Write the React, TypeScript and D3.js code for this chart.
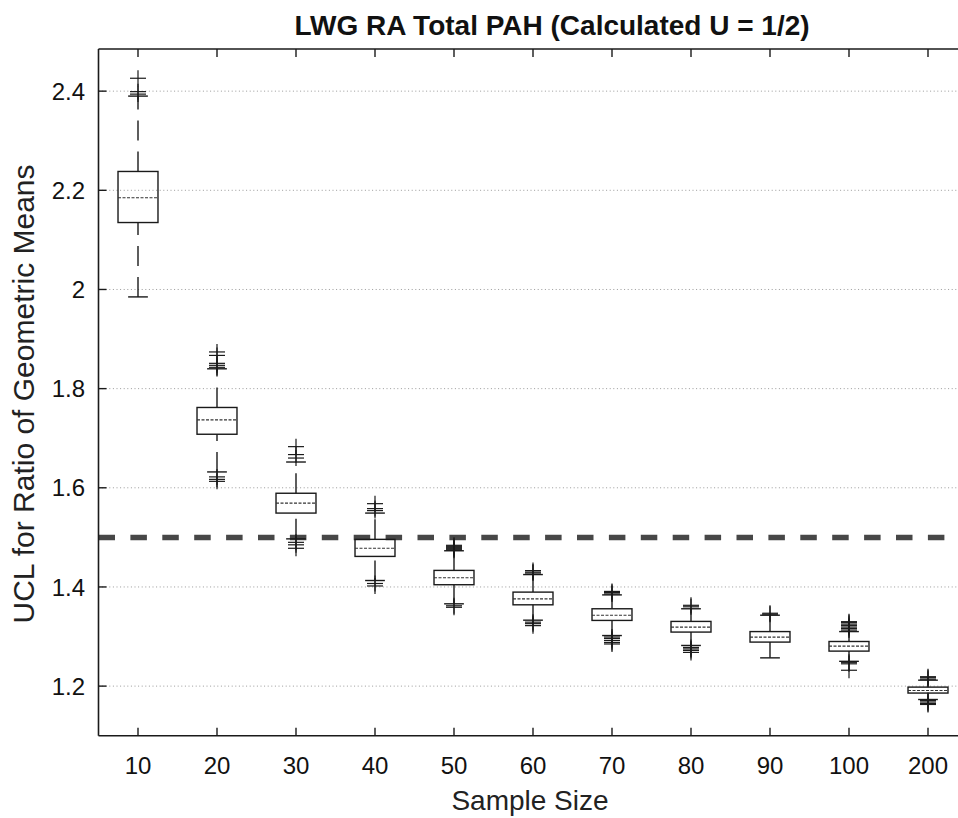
import React from "react";
import * as d3 from "d3";

const categories = ["10", "20", "30", "40", "50", "60", "70", "80", "90", "100", "200"];
const q1 = [2.135, 1.708, 1.549, 1.4616, 1.4045, 1.364, 1.3325, 1.309, 1.2888, 1.2706, 1.186];
const medians = [2.185, 1.737, 1.569, 1.478, 1.4187, 1.376, 1.343, 1.319, 1.2988, 1.2807, 1.1913];
const q3 = [2.238, 1.762, 1.589, 1.496, 1.4334, 1.3896, 1.356, 1.3305, 1.31, 1.29, 1.198];
const whiskerLow = [1.985, 1.632, 1.497, 1.413, 1.366, 1.333, 1.302, 1.282, 1.257, 1.25, 1.173];
const whiskerHigh = [2.39, 1.84, 1.652, 1.549, 1.473, 1.425, 1.384, 1.356, 1.343, 1.31, 1.212];
const outliersHigh = [
  [2.394, 2.399, 2.426],
  [1.843, 1.847, 1.851, 1.867, 1.874],
  [1.66, 1.667, 1.683],
  [1.554, 1.558, 1.568],
  [1.474, 1.476, 1.478, 1.48, 1.482, 1.484],
  [1.428, 1.43, 1.433],
  [1.386, 1.389, 1.391],
  [1.36, 1.363],
  [1.345, 1.347],
  [1.313, 1.316, 1.319, 1.322, 1.325, 1.328, 1.33],
  [1.214, 1.217, 1.219],
];
const outliersLow = [
  [],
  [1.622, 1.617, 1.613],
  [1.49, 1.485, 1.478],
  [1.407, 1.402],
  [1.362, 1.359],
  [1.329, 1.326, 1.322],
  [1.299, 1.296, 1.292, 1.288, 1.285],
  [1.278, 1.275, 1.272, 1.268],
  [],
  [1.248, 1.245, 1.232],
  [1.171, 1.168, 1.165, 1.163],
];
const yTicks = [1.2, 1.4, 1.6, 1.8, 2.0, 2.2, 2.4];
const refValue = 1.5;
const title = "LWG RA Total PAH (Calculated U = 1/2)";
const xTitle = "Sample Size";
const yTitle = "UCL for Ratio of Geometric Means";

const W = 958;
const H = 818;
const left = 98.5;
const right = 967.5;
const top = 49;
const bottom = 735.7;
const font = "'Liberation Sans', Arial, Helvetica, sans-serif";

export default function App() {
  const x = d3.scaleLinear().domain([0.5, categories.length + 0.5]).range([left, right]);
  const y = d3.scaleLinear().domain([1.1, 2.485]).range([bottom, top]);
  const unit = x(1) - x(0);
  const boxHalf = unit * 0.253;
  const capHalf = unit * 0.125;
  const plusHalf = 8;
  const stroke = "#1a1a1a";

  return (
    <svg
      width={W}
      height={H}
      style={{ position: "absolute", left: 0, top: 0, background: "#fff" }}
      xmlns="http://www.w3.org/2000/svg"
    >
      <rect x={0} y={0} width={W} height={H} fill="#fff" />
      {/* grid */}
      {yTicks.map((t) => (
        <line
          key={"g" + t}
          x1={left}
          x2={right}
          y1={y(t)}
          y2={y(t)}
          stroke="#9a9a9a"
          strokeWidth={1}
          strokeDasharray="1,2.6"
        />
      ))}
      {/* reference line */}
      <line
        x1={left}
        x2={right}
        y1={y(refValue)}
        y2={y(refValue)}
        stroke="#474747"
        strokeWidth={5.5}
        strokeDasharray="16.5,15.4"
      />
      {/* boxes */}
      {categories.map((c, i) => {
        const cx = x(i + 1);
        return (
          <g key={c}>
            <line x1={cx} x2={cx} y1={y(q3[i])} y2={y(whiskerHigh[i])} stroke={stroke} strokeWidth={1.4} strokeDasharray="20,11" />
            <line x1={cx} x2={cx} y1={y(whiskerLow[i])} y2={y(q1[i])} stroke={stroke} strokeWidth={1.4} strokeDasharray="20,11" />
            <line x1={cx - capHalf} x2={cx + capHalf} y1={y(whiskerHigh[i])} y2={y(whiskerHigh[i])} stroke={stroke} strokeWidth={1.4} />
            <line x1={cx - capHalf} x2={cx + capHalf} y1={y(whiskerLow[i])} y2={y(whiskerLow[i])} stroke={stroke} strokeWidth={1.4} />
            <rect
              x={cx - boxHalf}
              y={y(q3[i])}
              width={boxHalf * 2}
              height={y(q1[i]) - y(q3[i])}
              fill="none"
              stroke={stroke}
              strokeWidth={1.4}
            />
            <line
              x1={cx - boxHalf}
              x2={cx + boxHalf}
              y1={y(medians[i])}
              y2={y(medians[i])}
              stroke="#333"
              strokeWidth={1.1}
              strokeDasharray="3,1.5"
            />
            {[...outliersHigh[i], ...outliersLow[i]].map((v, k) => (
              <g key={k}>
                <line x1={cx - plusHalf} x2={cx + plusHalf} y1={y(v)} y2={y(v)} stroke={stroke} strokeWidth={1.2} />
                <line x1={cx} x2={cx} y1={y(v) - plusHalf} y2={y(v) + plusHalf} stroke={stroke} strokeWidth={1.2} />
              </g>
            ))}
          </g>
        );
      })}
      {/* axes frame */}
      <line x1={left} x2={left} y1={top} y2={bottom} stroke={stroke} strokeWidth={1.6} />
      <line x1={left} x2={right} y1={top} y2={top} stroke={stroke} strokeWidth={1.6} />
      <line x1={left} x2={right} y1={bottom} y2={bottom} stroke={stroke} strokeWidth={1.6} />
      {yTicks.map((t) => (
        <g key={"yt" + t}>
          <line x1={left} x2={left + 8} y1={y(t)} y2={y(t)} stroke={stroke} strokeWidth={1.4} />
          <text x={85} y={y(t)} dy="0.36em" textAnchor="end" fontFamily={font} fontSize={24} fill="#111">
            {d3.format("~g")(t)}
          </text>
        </g>
      ))}
      {categories.map((c, i) => (
        <g key={"xt" + c}>
          <line x1={x(i + 1)} x2={x(i + 1)} y1={bottom} y2={bottom - 8} stroke={stroke} strokeWidth={1.4} />
          <line x1={x(i + 1)} x2={x(i + 1)} y1={top} y2={top + 8} stroke={stroke} strokeWidth={1.4} />
          <text x={x(i + 1)} y={774} textAnchor="middle" fontFamily={font} fontSize={24} fill="#111">
            {c}
          </text>
        </g>
      ))}
      <text x={552} y={35} textAnchor="middle" fontFamily={font} fontSize={28} fontWeight="bold" fill="#111">
        {title}
      </text>
      <text x={530} y={810} textAnchor="middle" fontFamily={font} fontSize={28} fill="#222">
        {xTitle}
      </text>
      <text
        transform={`translate(34, 394) rotate(-90)`}
        textAnchor="middle"
        fontFamily={font}
        fontSize={30}
        fill="#222"
      >
        {yTitle}
      </text>
    </svg>
  );
}
